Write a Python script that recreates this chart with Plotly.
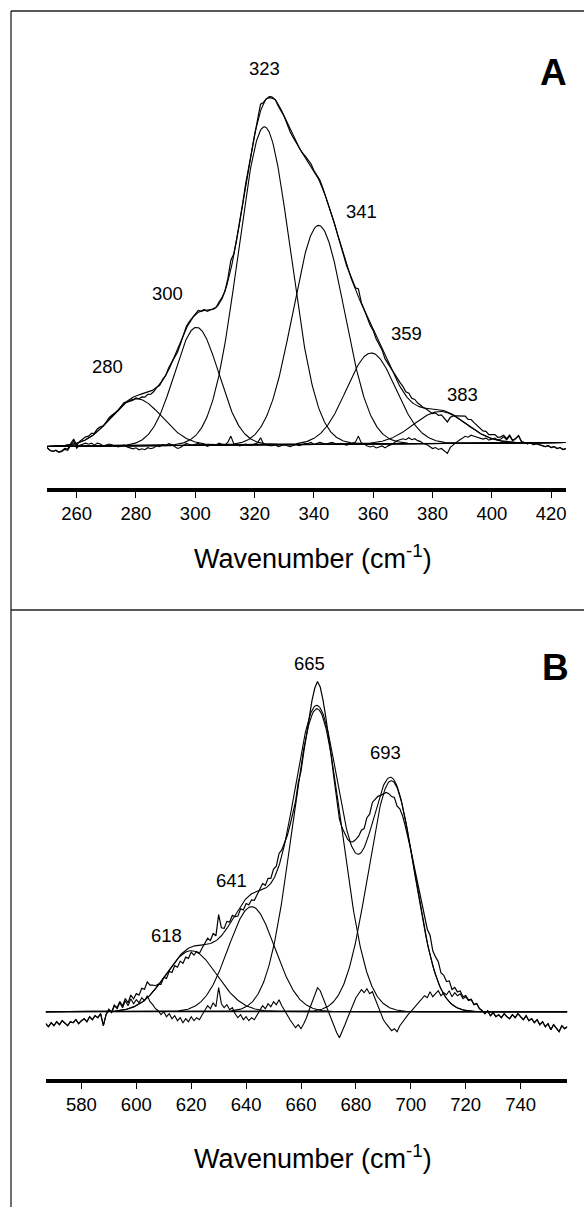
import numpy as np
import plotly.graph_objects as go

W, H = 584, 1207

# ---- panel A : 250-425 cm-1 (intensity in arbitrary units) ----
a_range = [250, 425]
a_ticks = [260, 280, 300, 320, 340, 360, 380, 400, 420]
a_centers = [280.2, 300.4, 323.3, 341.6, 359.3, 382.5]
a_heights = [47, 118, 318, 219, 91, 32]
a_sigmas = [8.6, 7.5, 8.8, 8.7, 8.3, 8.8]
a_labels = ["280", "300", "323", "341", "359", "383"]
a_baseline = [0, 4]          # linear baseline at the two range ends
a_start = 250                # residual sampled every 1 cm-1
a_resid = [-1, -4, -5, -4, -6, -5, -3, -4, 1, 5,
           -2, 1, 2, 3, 2, 3, 1, 3, 2, 0,
           1, 2, 1, 0, -1, 0, 1, -1, -2, -3,
           -2, -4, -3, -4, -2, -3, -2, 0, -1, 1,
           0, 2, 1, -1, -3, -2, 0, 2, 1, 0,
           1, 2, 0, 1, -1, 0, 1, 0, 2, 1,
           0, 3, 9, 1, 0, -1, 0, 1, 0, 0,
           1, 2, 7, 1, 0, -1, -1, 0, -2, -1,
           0, -1, -2, -1, 0, -1, 0, 1, 1, 2,
           0, 1, 2, 1, 0, 1, 2, 1, 0, 1,
           0, -1, 0, 1, 2, 8, 1, 0, -2, -3,
           -2, -4, -3, -2, -4, -2, -1, 1, 3, 4,
           5, 4, 6, 4, 5, 3, 2, 0, -1, -3,
           -5, -4, -6, -5, -8, -10, -4, -1, 1, 3,
           5, 7, 6, 8, 7, 6, 5, 4, 5, 3,
           4, 5, 3, 4, 6, 3, 7, 2, 4, 7,
           1, 0, -1, 0, -2, -1, -2, -3, -4, -3,
           -5, -4, -6, -5, -7, -6]

# ---- panel B : 567-757 cm-1 ----
b_range = [567, 757]
b_ticks = [580, 600, 620, 640, 660, 680, 700, 720, 740]
b_centers = [620.0, 642.0, 665.8, 692.9]
b_heights = [61, 105, 303, 231]
b_sigmas = [9.3, 8.5, 9.0, 8.4]
b_labels = ["618", "641", "665", "693"]
b_baseline = [0, 0]
b_start = 567
b_resid = [-12, -15, -11, -14, -10, -13, -9, -12, -14, -10,
           -11, -8, -12, -9, -7, -10, -5, -8, -4, -6,
           -2, -14, -3, 2, -1, 6, 3, 9, 4, 11,
           6, 13, 8, 12, 9, 14, 11, 16, 10, 7,
           3, 1, -3, 0, -5, -2, -7, -4, -9, -6,
           -11, -7, -10, -5, -9, -6, -8, -3, 2, 6,
           3, 9, 5, 24, 8, 4, 7, 2, 4, -2,
           -6, -3, -8, -5, -9, -6, -8, -3, 2, 6,
           3, 8, 5, 10, 7, 12, 6, 1, -4, -8,
           -12, -16, -13, -17, -12, -6, 2, 10, 18, 24,
           21, 14, 6, -1, -9, -16, -21, -26, -20, -13,
           -6, 1, 8, 14, 18, 22, 19, 23, 18, 20,
           13, 6, -2, -8, -12, -16, -19, -17, -20, -14,
           -10, -7, -3, 0, 3, 7, 10, 13, 16, 14,
           20, 15, 18, 21, 16, 19, 17, 21, 15, 19,
           16, 18, 13, 15, 11, 12, 7, 8, 3, 1,
           -2, 1, -4, -1, -5, -3, -6, -2, -5, -7,
           -3, -6, -2, -5, -8, -4, -9, -7, -11, -8,
           -13, -10, -15, -12, -18, -13, -16, -20, -14, -17,
           -15]


def px(x):
    return x / W


def py(y):
    return 1 - y / H


def gauss(x, c, h, s):
    return h * np.exp(-(x - c) ** 2 / (2 * s ** 2))


fig = go.Figure()
line = dict(color="black", width=1.1)


def add_panel(xr, centers, heights, sigmas, base, start, resid, xa, ya):
    fine = np.arange(xr[0], xr[1] + 0.25, 0.25)
    base_f = np.interp(fine, xr, base)
    for c, h, s in zip(centers, heights, sigmas):
        fig.add_trace(go.Scatter(x=fine, y=base_f + gauss(fine, c, h, s), mode="lines",
                                 line=line, xaxis=xa, yaxis=ya))
    env = base_f + sum(gauss(fine, c, h, s) for c, h, s in zip(centers, heights, sigmas))
    fig.add_trace(go.Scatter(x=fine, y=env, mode="lines", line=line, xaxis=xa, yaxis=ya))
    fig.add_trace(go.Scatter(x=xr, y=base, mode="lines", line=line, xaxis=xa, yaxis=ya))
    wn = np.arange(start, start + len(resid))
    base_d = np.interp(wn, xr, base)
    fit_d = sum(gauss(wn, c, h, s) for c, h, s in zip(centers, heights, sigmas))
    res = np.array(resid, dtype=float)
    fig.add_trace(go.Scatter(x=wn, y=base_d + fit_d + res, mode="lines",
                             line=dict(color="black", width=1.2), xaxis=xa, yaxis=ya))
    fig.add_trace(go.Scatter(x=wn, y=base_d + res, mode="lines", line=line,
                             xaxis=xa, yaxis=ya))


add_panel(a_range, a_centers, a_heights, a_sigmas, a_baseline, a_start, a_resid, "x", "y")
add_panel(b_range, b_centers, b_heights, b_sigmas, b_baseline, b_start, b_resid, "x2", "y2")

font = "Liberation Sans, Arial, sans-serif"
xax = dict(showline=True, linewidth=3.5, linecolor="black", ticks="outside", ticklen=6,
           tickwidth=1.2, tickcolor="black", showgrid=False, zeroline=False,
           tickfont=dict(family=font, size=18.5, color="black"))

fig.update_layout(
    width=W, height=H, margin=dict(l=0, r=0, t=0, b=0),
    paper_bgcolor="white", plot_bgcolor="white", showlegend=False,
    xaxis=dict(xax, domain=[px(47), px(566)], range=a_range, tickvals=a_ticks, anchor="y"),
    yaxis=dict(domain=[py(488), py(20)], range=[-41.5, 426.5], visible=False),
    xaxis2=dict(xax, domain=[px(45.7), px(567.3)], range=b_range, tickvals=b_ticks, anchor="y2"),
    yaxis2=dict(domain=[py(1079), py(620)], range=[-67.3, 391.7], visible=False),
)

# frame lines
frame = dict(color="#222", width=1.3)
fig.add_shape(type="line", xref="paper", yref="paper", x0=px(11), x1=px(11), y0=py(11), y1=0, line=frame)
fig.add_shape(type="line", xref="paper", yref="paper", x0=px(11), x1=1, y0=py(11), y1=py(11), line=frame)
fig.add_shape(type="line", xref="paper", yref="paper", x0=px(11), x1=1, y0=py(610), y1=py(610), line=frame)

# peak labels
a_label_pos = [(107.7, 366.7), (167.3, 293.3), (264.4, 68.3), (361.7, 211.7), (406, 333.3), (462.7, 394)]
b_label_pos = [(166.8, 935), (231.3, 880.3), (309.2, 663.3), (385.5, 752.7)]
for t, (x, y) in list(zip(a_labels, a_label_pos)) + list(zip(b_labels, b_label_pos)):
    fig.add_annotation(text=t, xref="paper", yref="paper", x=px(x), y=py(y), showarrow=False,
                       xanchor="center", yanchor="middle", font=dict(family=font, size=18.5, color="black"))

for t, (x, y) in [("A", (553.4, 72.5)), ("B", (555, 667))]:
    fig.add_annotation(text="<b>%s</b>" % t, xref="paper", yref="paper", x=px(x), y=py(y),
                       showarrow=False, xanchor="center", yanchor="middle",
                       font=dict(family=font, size=37, color="black"))

for y in [556.5, 1156.7]:
    fig.add_annotation(text="Wavenumber (cm<sup>-1</sup>)", xref="paper", yref="paper",
                       x=px(313), y=py(y), showarrow=False, xanchor="center", yanchor="middle",
                       font=dict(family=font, size=27, color="black"))

# the page body has a default 8px margin; drop it so the figure sits at the window origin
fig.write_html("out.html", config={"displayModeBar": False},
               post_script="document.body.style.margin='0';document.body.style.overflow='hidden';")
